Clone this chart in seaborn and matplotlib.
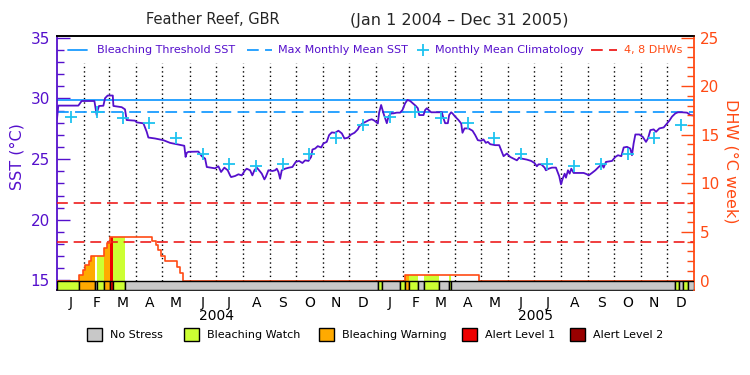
import numpy as np
import pandas as pd
import matplotlib
matplotlib.use("Agg")
import matplotlib.pyplot as plt
import matplotlib.transforms as mtransforms
from matplotlib.lines import Line2D
from matplotlib.patches import Rectangle
import seaborn as sns

# ---------------- data ----------------
sst_day = [0, 1.5, 24.5, 28.3, 42.9, 45.5, 46.7, 48.2, 53.2, 55.1, 58.1, 64.0, 64.7, 74.2, 78.0,
           79.9, 89.5, 91.4, 99.1, 102.9, 104.8, 112.5, 122.0, 129.7, 146.0, 147.5, 148.8, 150.7,
           162.2, 166.0, 169.9, 171.8, 181.3, 185.1, 188.2, 192.0, 195.8, 198.5, 199.7, 204.3,
           208.1, 211.9, 215.7, 217.6, 221.5, 224.1, 226.4, 229.1, 231.8, 234.9, 237.9, 239.4,
           242.5, 247.1, 250.2, 252.1, 254.0, 255.9, 257.8, 261.6, 266.2, 270.0, 273.9, 277.7,
           281.5, 284.6, 288.4, 291.5, 293.0, 296.1, 299.1, 303.0, 305.6, 309.4, 312.1, 315.2,
           319.0, 322.8, 326.7, 329.7, 333.5, 337.4, 341.2, 345.0, 346.5, 350.4, 354.2, 358.0,
           361.1, 364.1, 368.0, 369.5, 371.8, 374.5, 376.4, 378.3, 380.2, 383.3, 385.9, 389.8,
           393.6, 396.3, 399.3, 402.0, 405.1, 408.9, 411.6, 413.9, 415.4, 420.4, 422.3, 424.2,
           426.9, 429.2, 441.4, 443.3, 445.2, 448.3, 449.8, 452.1, 453.6, 456.7, 460.5, 463.6,
           465.1, 467.4, 472.0, 476.6, 479.7, 482.7, 486.5, 489.2, 491.9, 494.2, 496.9, 502.6,
           507.2, 510.3, 512.2, 516.0, 519.8, 523.6, 527.5, 530.1, 533.2, 538.9, 543.9, 547.7,
           550.4, 552.3, 555.5, 559.3, 560.8, 563.9, 567.7, 572.3, 574.6, 576.1, 578.1, 580.0,
           582.3, 583.8, 586.1, 588.0, 589.9, 592.6, 598.3, 604.1, 607.9, 609.8, 613.6, 617.5,
           621.3, 625.1, 627.0, 629.7, 636.6, 640.4, 643.5, 647.3, 650.0, 653.8, 657.6, 659.5,
           661.4, 663.4, 667.9, 671.8, 675.6, 677.9, 680.6, 684.4, 687.1, 690.9, 695.9, 699.7,
           702.4, 705.4, 709.3, 712.3, 716.9, 722.6, 726.5, 731.0]
sst_val = [28.30, 29.41, 29.41, 29.79, 29.79, 28.63, 29.05, 29.38, 29.40, 30.02, 30.24, 30.24, 29.38,
           29.28, 29.10, 28.22, 28.17, 28.03, 27.95, 27.25, 26.78, 26.70, 26.56, 26.34, 26.10, 25.18,
           25.51, 25.60, 25.62, 25.24, 25.04, 24.35, 24.24, 24.41, 23.94, 24.30, 24.08, 23.66, 23.52,
           23.61, 23.75, 23.66, 24.08, 24.21, 24.08, 23.66, 24.08, 24.30, 24.08, 23.80, 23.33, 23.52,
           24.08, 24.02, 24.08, 24.21, 23.94, 23.38, 24.08, 24.21, 24.30, 24.35, 24.77, 24.85, 24.68,
           24.90, 24.85, 25.18, 25.79, 25.87, 26.07, 25.96, 26.29, 26.42, 26.98, 27.20, 27.17, 27.34,
           27.12, 26.70, 26.76, 27.03, 27.17, 27.45, 27.67, 27.94, 28.08, 28.22, 28.28, 28.17, 27.94,
           28.83, 29.46, 28.77, 28.36, 27.96, 28.50, 28.77, 28.77, 28.83, 28.83, 29.05, 29.60, 29.88,
           29.79, 29.55, 29.38, 29.19, 28.63, 28.63, 29.05, 29.19, 29.00, 28.86, 28.86, 28.36, 27.96,
           27.96, 28.63, 28.86, 28.77, 28.50, 28.22, 27.94, 27.17, 27.53, 27.53, 27.34, 26.98, 26.56,
           26.51, 26.62, 26.34, 26.42, 26.23, 26.15, 26.15, 25.60, 25.24, 25.46, 25.18, 25.04, 24.90,
           25.12, 25.04, 24.96, 24.85, 24.68, 24.41, 24.57, 24.57, 24.30, 24.08, 24.21, 24.30, 24.30,
           23.86, 23.58, 22.92, 23.38, 23.80, 23.47, 24.08, 23.80, 24.21, 23.86, 23.86, 23.86, 23.75,
           23.66, 23.86, 24.08, 24.35, 24.57, 24.30, 24.77, 24.85, 25.18, 25.32, 25.24, 25.96, 26.01,
           25.87, 25.32, 26.29, 27.03, 27.03, 26.84, 26.42, 26.70, 27.39, 27.45, 27.25, 27.53, 27.61,
           27.94, 28.17, 28.50, 28.77, 28.86, 28.86, 28.83, 28.63, 28.58]

clim_monthly = [28.50, 28.86, 28.41, 27.94, 26.76, 25.46, 24.63, 24.43, 24.63, 25.46, 26.77, 27.80]
bleaching_threshold = 29.85
max_monthly_mean = 28.86

dhw_day = [0, 25.6, 29.8, 32.6, 36.4, 39.5, 54.3, 57.0, 60.8, 108.7, 113.6, 116.3, 119.0, 124.0,
           137.4, 141.2, 145.0, 399.4, 484.6, 731.0]
dhw_val = [0, 0.58, 1.12, 1.60, 2.02, 2.54, 3.36, 3.84, 4.50, 4.05, 3.63, 3.15, 2.54, 2.00,
           1.44, 0.76, 0, 0.55, 0, 0]
dhw_refs = [4, 8]

stress_start = [0, 25.6, 43.6, 45.6, 54.3, 60.8, 64.6, 78.4, 368.4, 373.3, 393.6, 399.4, 404.3,
                414.6, 421.2, 438.7, 449.9, 452.2, 708.4, 713.0, 718.0, 723.3]
stress_end = [25.6, 43.6, 45.6, 54.3, 60.8, 64.6, 78.4, 368.4, 373.3, 393.6, 399.4, 404.3, 414.6,
              421.2, 438.7, 449.9, 452.2, 708.4, 713.0, 718.0, 723.3, 731.0]
stress_level = [1, 2, 0, 1, 2, 3, 1, 0, 1, 0, 1, 2, 1, 0, 1, 0, 1, 0, 1, 0, 1, 0]

stress_names = ["No Stress", "Bleaching Watch", "Bleaching Warning", "Alert Level 1", "Alert Level 2"]
stress_colors = ["#c8c8c8", "#ccff33", "#ffaa00", "#ee0000", "#990000"]
month_letters = ["J", "F", "M", "A", "M", "J", "J", "A", "S", "O", "N", "D"]
year_labels = ["2004", "2005"]

# ---------------- styling ----------------
PURPLE = "#5510cc"
ORANGE = "#ff4a14"
RED = "#ee1c1c"
BLUE = "#1a9cff"
CYAN = "#1ec3f0"

sns.set_style("ticks")
plt.rcParams["font.family"] = ["DejaVu Sans"]

W, H = 750, 375
L, R, T, B = 57, 694.3, 35.7, 290.3
fx = lambda x: x / W
fy = lambda y: 1 - y / H

fig = plt.figure(figsize=(7.5, 3.75), dpi=100)
ax = fig.add_axes([fx(L), fy(B), (R - L) / W, (B - T) / H])

# time axis
month_starts = pd.date_range("2004-01-01", "2006-01-01", freq="MS")
start_day = (month_starts - month_starts[0]).days.values.astype(float)
mid_day = (start_day[:-1] + start_day[1:]) / 2
total_days = start_day[-1]

# dotted month separators
for d in start_day[1:-1]:
    ax.axvline(d, ymin=(B - 280.5) / (B - T), ymax=(B - 63) / (B - T),
               color="black", lw=1.0, ls=(0, (1, 2.2)), zorder=1)

ax.axhline(bleaching_threshold, color=BLUE, lw=1.3, zorder=2)
ax.axhline(max_monthly_mean, color=BLUE, lw=1.3, ls=(0, (6.5, 3.5)), zorder=2)

sns.lineplot(x=sst_day, y=sst_val, ax=ax, color=PURPLE, lw=1.3, estimator=None, sort=False, zorder=3)
clim_x = list(mid_day)
clim_y = clim_monthly * 2
sns.scatterplot(x=clim_x, y=clim_y, ax=ax, marker="+", s=75, color=CYAN, linewidth=1.3, zorder=4)

ax.set_xlim(0, total_days)
ax.set_ylim(14.19, 35.17)
ax.set_xticks(mid_day)
ax.set_xticklabels(month_letters * 2)
ax.set_yticks([15, 20, 25, 30, 35])
ax.set_yticks(np.arange(15, 36, 1), minor=True)
ax.tick_params(axis="x", which="both", length=0, labelsize=10, pad=4, colors="black")
ax.tick_params(axis="y", which="major", direction="in", length=9.5, width=1, colors=PURPLE,
               labelsize=11, pad=5)
ax.tick_params(axis="y", which="minor", direction="in", length=5, width=1, colors=PURPLE)
ax.set_xlabel("")
ax.set_ylabel("")
for s in ["top", "bottom"]:
    ax.spines[s].set_color("black")
    ax.spines[s].set_linewidth(1.2)
ax.spines["left"].set_color(PURPLE)
ax.spines["left"].set_linewidth(1.3)
ax.spines["right"].set_visible(False)

# ---------------- DHW axis ----------------
ax2 = ax.twinx()
ax2.set_ylim(-1.008, 25.19)


def dhw_at(d):
    idx = np.searchsorted(dhw_day, d, side="right") - 1
    return dhw_val[max(idx, 0)]


for s0, s1, lv in zip(stress_start, stress_end, stress_level):
    if lv == 0:
        continue
    pts = [s0] + [d for d in dhw_day if s0 < d < s1] + [s1]
    vals = [dhw_at(p) for p in pts]
    if max(vals) <= 0:
        continue
    ax2.fill_between(pts, 0, vals, step="post", color=stress_colors[lv], lw=0, zorder=2)

ax2.plot(dhw_day, dhw_val, drawstyle="steps-post", color=ORANGE, lw=1.2, zorder=3)
for v in dhw_refs:
    ax2.axhline(v, color=RED, lw=1.2, ls=(0, (6.5, 3.5)), zorder=2)

ax2.bar(stress_start, height=1.008, bottom=-1.008,
        width=[e - s for s, e in zip(stress_start, stress_end)], align="edge",
        color=[stress_colors[l] for l in stress_level], edgecolor="black", linewidth=1.0, zorder=5)

ax2.set_yticks([0, 5, 10, 15, 20, 25])
ax2.set_yticks(np.arange(0, 26, 1), minor=True)
ax2.tick_params(axis="y", which="major", direction="in", length=9.5, width=1, colors=ORANGE,
                labelsize=11, pad=4)
ax2.tick_params(axis="y", which="minor", direction="in", length=5, width=1, colors=ORANGE)
ax2.spines["right"].set_color(ORANGE)
ax2.spines["right"].set_linewidth(1.3)
ax2.spines["left"].set_visible(False)
ax2.spines["top"].set_color("black")
ax2.spines["top"].set_linewidth(1.2)
ax2.spines["bottom"].set_visible(False)
ax2.set_ylabel("")
ax.set_xlim(0, total_days)

# year labels
trans = mtransforms.blended_transform_factory(ax.transData, ax.transAxes)
year_mid = [start_day[12] / 2, start_day[12] + (start_day[24] - start_day[12]) / 2]
for ym, lab in zip(year_mid, year_labels):
    ax.text(ym, (B - 315.5) / (B - T), lab, transform=trans, ha="center", va="center",
            fontsize=10, color="black")

# titles / axis labels
fig.text(fx(213), fy(20), "Feather Reef, GBR", ha="center", va="center", fontsize=10.5)
fig.text(fx(459), fy(20), "(Jan 1 2004 \u2013 Dec 31 2005)", ha="center", va="center", fontsize=11.5)
fig.text(fx(17), fy(157), "SST (\u00b0C)", rotation=90, ha="center", va="center",
         fontsize=11.5, color=PURPLE)
fig.text(fx(731), fy(161), "DHW (\u00b0C week)", rotation=270, ha="center", va="center",
         fontsize=11.5, color=ORANGE)

# top legend
ly = fy(50)
fig.add_artist(Line2D([fx(68), fx(87)], [ly, ly], color=BLUE, lw=1.3))
fig.text(fx(97), ly, "Bleaching Threshold SST", color=PURPLE, fontsize=8, va="center", ha="left")
fig.add_artist(Line2D([fx(247), fx(272)], [ly, ly], color=BLUE, lw=1.3, ls=(0, (6.5, 3.5))))
fig.text(fx(278), ly, "Max Monthly Mean SST", color=PURPLE, fontsize=8, va="center", ha="left")
fig.add_artist(Line2D([fx(423)], [ly], color=CYAN, marker="+", ms=8, mew=1.3, ls="none"))
fig.text(fx(435), ly, "Monthly Mean Climatology", color=PURPLE, fontsize=8, va="center", ha="left")
fig.add_artist(Line2D([fx(591), fx(617)], [ly, ly], color=RED, lw=1.3, ls=(0, (6.5, 3.5))))
fig.text(fx(624), ly, "4, 8 DHWs", color=ORANGE, fontsize=8, va="center", ha="left")

# bottom legend
box_left = [87, 184, 319, 462, 570]
for x0, name, col in zip(box_left, stress_names, stress_colors):
    fig.add_artist(Rectangle((fx(x0), fy(341)), 15 / W, 13 / H, facecolor=col,
                             edgecolor="black", lw=1.0, transform=fig.transFigure))
    fig.text(fx(x0 + 23), fy(334.5), name, fontsize=8, va="center", ha="left", color="black")

fig.savefig("out.png", dpi=100)
